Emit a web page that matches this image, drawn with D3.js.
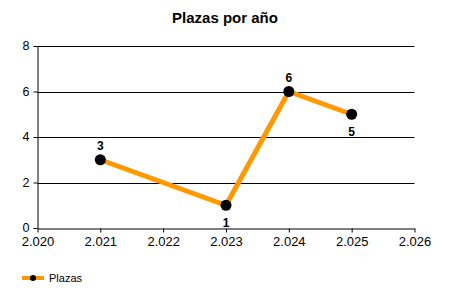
<!DOCTYPE html>
<html>
<head>
<meta charset="utf-8">
<script src="https://cdn.jsdelivr.net/npm/d3@7"></script>
<style>
  body { margin: 0; background: #fff; }
  text { font-family: "Liberation Sans", Arial, sans-serif; }
</style>
</head>
<body>
<svg id="chart" width="450" height="300"></svg>
<script>
const title = 'Plazas por año'
const seriesName = 'Plazas'
const years = [2021, 2023, 2024, 2025]
const plazas = [3, 1, 6, 5]
const xTicks = [2020, 2021, 2022, 2023, 2024, 2025, 2026]
const yTicks = [0, 2, 4, 6, 8]

const svg = d3.select('#chart')
const margin = { left: 37.5, right: 414.5, top: 46, bottom: 228 }

const x = d3.scaleLinear().domain([2020, 2026]).range([margin.left, margin.right])
const y = d3.scaleLinear().domain([0, 8]).range([margin.bottom, margin.top])

const fmt = d => (d / 1000).toFixed(3)

// title
svg.append('text')
    .attr('x', 225).attr('y', 23)
    .attr('text-anchor', 'middle')
    .style('font-size', '15px').style('font-weight', 'bold')
    .text(title)

// grid
svg.append('g').selectAll('line')
    .data(yTicks.filter(d => d > 0))
    .enter().append('line')
    .attr('x1', margin.left).attr('x2', margin.right)
    .attr('y1', d => Math.round(y(d)) + 0.5).attr('y2', d => Math.round(y(d)) + 0.5)
    .attr('stroke', '#000')

// axes
const yAxis = svg.append('g')
    .attr('transform', `translate(${margin.left},0)`)
    .call(d3.axisLeft(y).tickValues(yTicks).tickSize(4).tickPadding(4).tickSizeOuter(0))
const xAxis = svg.append('g')
    .attr('transform', `translate(0,${Math.round(y(0)) + 0.5})`)
    .call(d3.axisBottom(x).tickValues(xTicks).tickFormat(fmt).tickSize(4).tickPadding(4).tickSizeOuter(0))
;[yAxis, xAxis].forEach(a => {
    a.selectAll('path, line').attr('stroke', '#000')
    a.selectAll('text').attr('fill', '#000')
})
yAxis.selectAll('text').style('font-size', '12.5px').attr('dy', '0.28em')
xAxis.selectAll('text').style('font-size', '13px')

// series
const pts = years.map((d, i) => ({ x: d, y: plazas[i] }))
svg.append('path')
    .datum(pts)
    .attr('fill', 'none')
    .attr('stroke', '#FF9900')
    .attr('stroke-width', 5)
    .attr('stroke-linejoin', 'round')
    .attr('d', d3.line().x(d => x(d.x)).y(d => y(d.y)))

svg.append('g').selectAll('circle')
    .data(pts)
    .enter().append('circle')
    .attr('cx', d => x(d.x)).attr('cy', d => y(d.y))
    .attr('r', 5.5).attr('fill', '#000')

// labels: below when lower than the previous point
svg.append('g').selectAll('text')
    .data(pts)
    .enter().append('text')
    .attr('x', d => x(d.x))
    .attr('y', (d, i) => (i > 0 && d.y < pts[i - 1].y) ? y(d.y) + 22 : y(d.y) - 10)
    .attr('text-anchor', 'middle')
    .style('font-size', '12px').style('font-weight', 'bold')
    .text(d => d.y)

// legend
const lg = svg.append('g').attr('transform', 'translate(22,278)')
lg.append('line').attr('x1', 0).attr('x2', 22).attr('y1', 0).attr('y2', 0)
    .attr('stroke', '#FF9900').attr('stroke-width', 4)
lg.append('circle').attr('cx', 11).attr('cy', 0).attr('r', 3).attr('fill', '#000')
lg.append('text').attr('x', 27).attr('y', 4).style('font-size', '11px').text(seriesName)
</script>
</body>
</html>
